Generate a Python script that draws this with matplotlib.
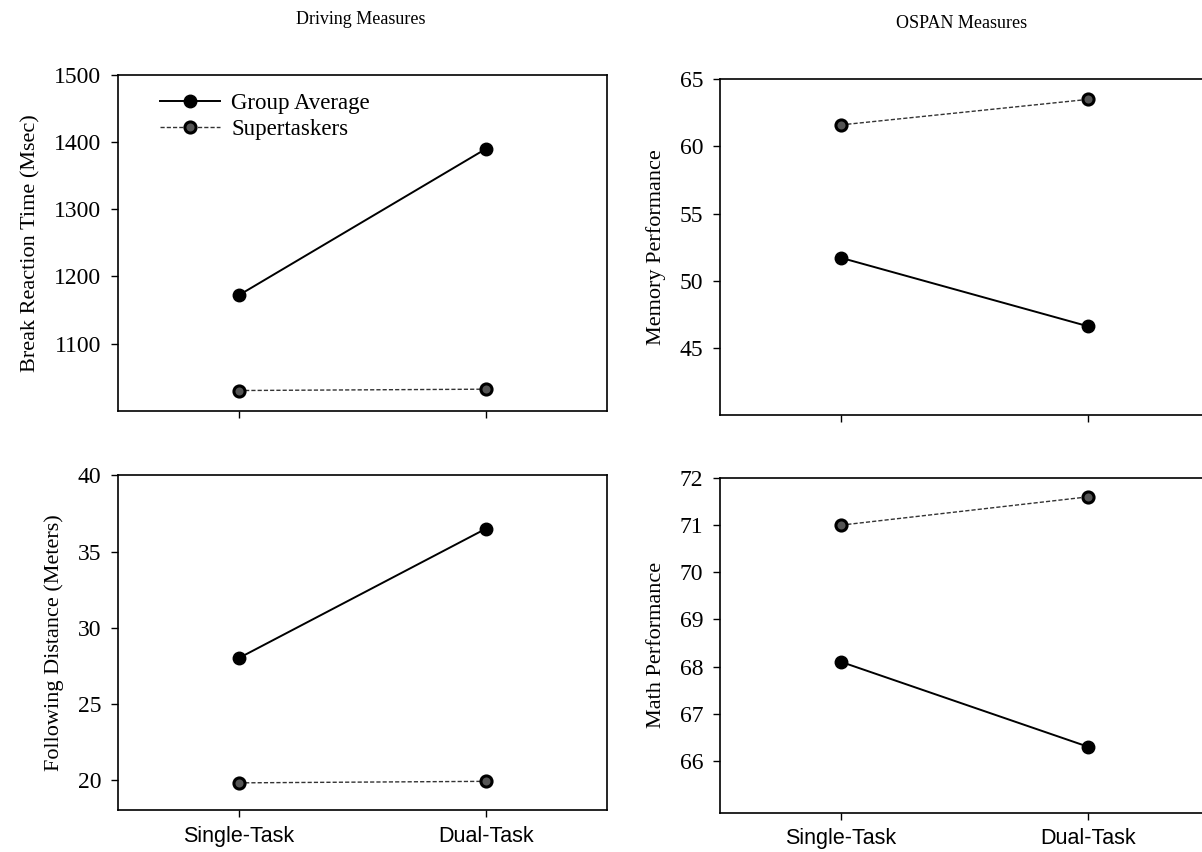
import numpy as np
import matplotlib.pyplot as plt

conditions = ['Single-Task', 'Dual-Task']

brake_group = [1172, 1390]
brake_super = [1030, 1032]
follow_group = [28.0, 36.5]
follow_super = [19.8, 19.9]
memory_group = [51.7, 46.6]
memory_super = [61.6, 63.5]
math_group = [68.1, 66.3]
math_super = [71.0, 71.6]

serif = 'Liberation Serif'
sans = 'Liberation Sans'

fig = plt.figure(figsize=(12.02, 8.52), dpi=100)

# axes boxes in figure fractions (left, bottom, width, height)
ax_tl = fig.add_axes([0.098, 0.518, 0.407, 0.394])
ax_bl = fig.add_axes([0.098, 0.049, 0.407, 0.393])
ax_tr = fig.add_axes([0.599, 0.513, 0.407, 0.394])
ax_br = fig.add_axes([0.599, 0.046, 0.407, 0.393])

x = np.arange(len(conditions))


def draw(ax, g, s, ylim, yticks, ylabel, show_x):
    ax.plot(x, g, color='black', lw=1.4, marker='o', ms=9,
            mfc='black', mec='black', label='Group Average')
    ax.plot(x, s, color='#333333', lw=1.0, ls=(0, (3, 1.5)), marker='o', ms=8,
            mfc='#555555', mec='black', mew=2.2, label='Supertaskers')
    ax.set_xlim(-0.49, 1.49)
    ax.set_ylim(*ylim)
    ax.set_yticks(yticks)
    ax.set_xticks(x)
    for lab in ax.get_yticklabels():
        lab.set_fontfamily(serif)
        lab.set_fontsize(17)
    if show_x:
        ax.set_xticklabels(conditions, fontfamily=sans, fontsize=15.5)
    else:
        ax.set_xticklabels([])
    ax.tick_params(axis='y', direction='out', length=5, width=1, pad=7)
    ax.tick_params(axis='x', direction='out', length=5, width=1, pad=6)
    ax.set_ylabel(ylabel, fontfamily=serif, fontsize=16, labelpad=10)
    for sp in ax.spines.values():
        sp.set_linewidth(1.2)


draw(ax_tl, brake_group, brake_super, (1000, 1500), [1100, 1200, 1300, 1400, 1500],
     'Break Reaction Time (Msec)', False)
draw(ax_bl, follow_group, follow_super, (18, 40), [20, 25, 30, 35, 40],
     'Following Distance (Meters)', True)
draw(ax_tr, memory_group, memory_super, (40, 65), [45, 50, 55, 60, 65],
     'Memory Performance', False)
draw(ax_br, math_group, math_super, (64.9, 72), [66, 67, 68, 69, 70, 71, 72],
     'Math Performance', True)

ax_tl.legend(loc='upper left', bbox_to_anchor=(0.045, 1.008), frameon=False,
             prop={'family': serif, 'size': 16.5}, handlelength=2.6,
             handletextpad=0.5, labelspacing=0.2)

fig.text(0.30, 0.977, 'Driving Measures', ha='center', va='center',
         fontfamily=serif, fontsize=13)
fig.text(0.80, 0.973, 'OSPAN Measures', ha='center', va='center',
         fontfamily=serif, fontsize=13)

fig.savefig('out.png', dpi=100)
